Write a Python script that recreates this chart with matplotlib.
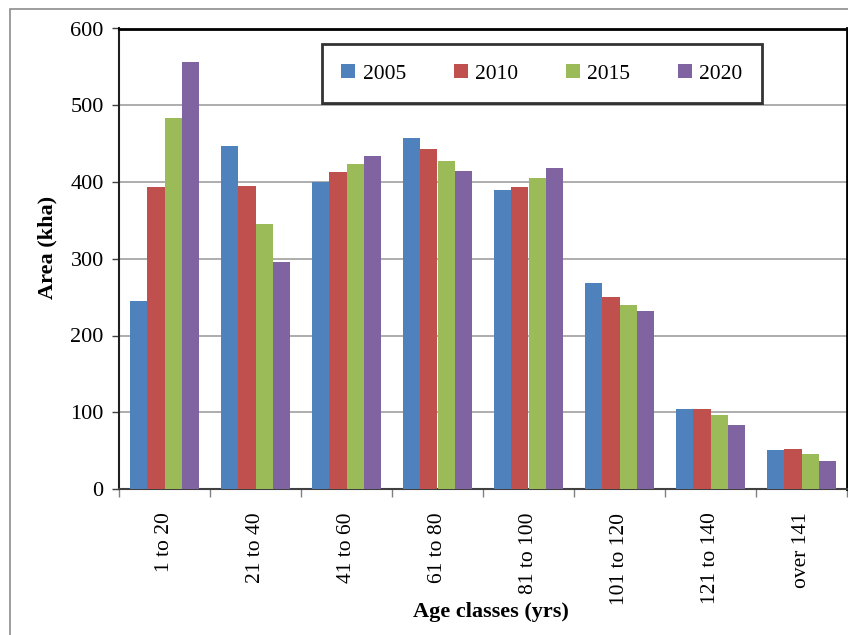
import matplotlib
matplotlib.use('Agg')
import matplotlib.pyplot as plt
from matplotlib.patches import Rectangle
import numpy as np

# data
age_classes = ['1 to 20', '21 to 40', '41 to 60', '61 to 80',
               '81 to 100', '101 to 120', '121 to 140', 'over 141']
years = ['2005', '2010', '2015', '2020']
area_2005 = [245, 447, 400, 457, 389, 268, 104, 51]
area_2010 = [393, 395, 413, 443, 393, 250, 104, 52]
area_2015 = [483, 345, 423, 428, 405, 240, 96, 46]
area_2020 = [557, 296, 434, 414, 418, 232, 83, 37]
y_ticks = [0, 100, 200, 300, 400, 500, 600]

series = [area_2005, area_2010, area_2015, area_2020]
colors = ['#4F81BD', '#C0504D', '#9BBB59', '#8064A2']

plt.rcParams['font.family'] = ['Liberation Serif', 'DejaVu Serif']

fig = plt.figure(figsize=(8.48, 6.35), dpi=100)

# outer chart frame (gray)
fig.patches.append(Rectangle((10 / 848, -0.01), 1.0, 1 - 9.3 / 635 + 0.01,
                             transform=fig.transFigure, fill=False,
                             edgecolor='#8c8c8c', linewidth=1.2))

ax = fig.add_axes([119 / 848, (635 - 489) / 635, 728 / 848, 460.5 / 635])

x = np.arange(len(age_classes))
bar_w = 0.187
for i, (vals, c, yr) in enumerate(zip(series, colors, years)):
    ax.bar(x + (i - 1.5) * bar_w, vals, width=bar_w, color=c, label=yr, zorder=3)

ax.set_xlim(-0.5, len(age_classes) - 0.5)
ax.set_ylim(0, 600)
ax.set_yticks(y_ticks)
ax.set_yticklabels([str(v) for v in y_ticks], fontsize=16)
ax.yaxis.grid(True, color='#a0a0a0', linewidth=1.2, zorder=0)

ax.set_xticks(x)
ax.set_xticklabels(age_classes, rotation=90, fontsize=15.5)
ax.tick_params(axis='x', which='major', length=0, pad=17)
ax.set_xticks(np.arange(-0.5, len(age_classes), 1), minor=True)
ax.tick_params(axis='x', which='minor', length=6, color='#808080', width=1)
ax.tick_params(axis='y', length=5, color='#404040', width=1, pad=6)

ax.spines['left'].set_color('#202020')
ax.spines['left'].set_linewidth(1.5)
ax.spines['bottom'].set_color('#404040')
ax.spines['bottom'].set_linewidth(1.5)
ax.spines['top'].set_color('black')
ax.spines['top'].set_linewidth(2)
ax.spines['right'].set_color('black')
ax.spines['right'].set_linewidth(2)

ax.set_ylabel('Area (kha)', fontsize=16, fontweight='bold')
ax.yaxis.set_label_coords(-0.0845, 0.5255)
ax.set_xlabel('Age classes (yrs)', fontsize=16, fontweight='bold')
ax.xaxis.set_label_coords(0.511, -0.245)

leg = ax.legend(loc='center', bbox_to_anchor=(0.279, 0.840, 0.604, 0.124),
                mode='expand', ncol=4, fontsize=15.5, frameon=True,
                fancybox=False, handlelength=0.65, handleheight=0.65,
                handletextpad=0.35, borderpad=0.9, borderaxespad=0)
leg.get_frame().set_edgecolor('black')
leg.get_frame().set_linewidth(2)

plt.savefig('out.png', dpi=100)
